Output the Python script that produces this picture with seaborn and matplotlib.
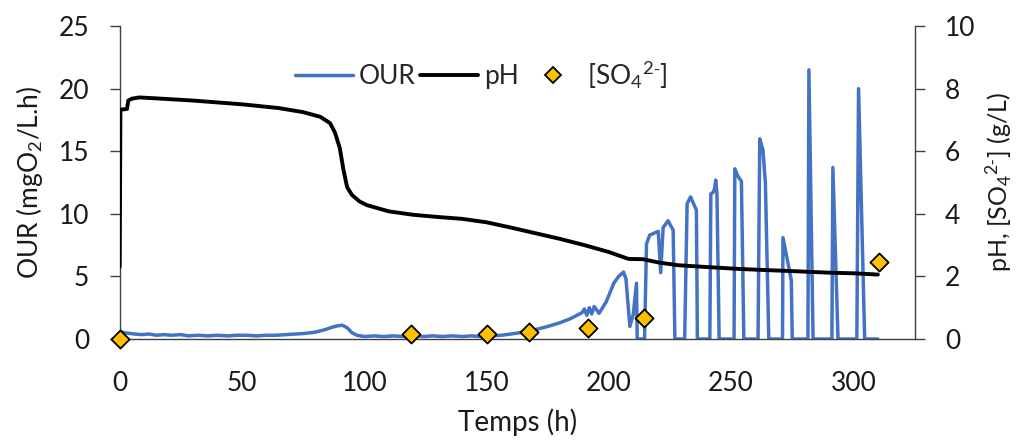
import matplotlib
matplotlib.use("Agg")
import matplotlib.pyplot as plt
import seaborn as sns
import pandas as pd
from matplotlib.lines import Line2D

# OUR (mgO2/L.h) vs time (h)
our_t = [0, 0.5, 1, 2, 4, 6, 9, 12, 15, 18, 21, 25, 28, 32, 36, 40, 44, 48, 52, 56,
         60, 64, 68, 72, 76, 80, 84, 87, 89, 91, 93, 95, 97, 100, 104, 108, 112, 116,
         120, 124, 128, 132, 136, 140, 144, 148, 152, 156, 160, 165, 170, 175, 180,
         184, 187, 189, 190, 191, 192, 193, 194, 196, 199, 202, 204, 206, 207, 208.6,
         210, 211.3, 211.6, 214.6, 215.4, 216.7, 219, 220.2, 221.2, 222.2, 224.2,
         226.3, 227, 231, 232, 233.4, 235.8, 236.2, 241.3, 241.7, 242.6, 243.2, 243.7,
         244.2, 245.1, 251.2, 251.5, 252.8, 254.2, 255.2, 261, 261.7, 263, 264, 265.4,
         271, 271.2, 274.6, 275, 281.4, 281.8, 283.5, 291.2, 291.6, 293.7, 301.4, 302.1,
         304.6, 310]
our_v = [0.1, 0.6, 0.55, 0.5, 0.45, 0.4, 0.35, 0.4, 0.3, 0.35, 0.3, 0.35, 0.25, 0.3,
         0.25, 0.3, 0.25, 0.3, 0.3, 0.25, 0.3, 0.3, 0.35, 0.4, 0.45, 0.55, 0.75, 0.95,
         1.05, 1.1, 0.9, 0.5, 0.3, 0.2, 0.25, 0.2, 0.25, 0.2, 0.25, 0.2, 0.25, 0.2,
         0.25, 0.2, 0.25, 0.2, 0.25, 0.3, 0.4, 0.55, 0.75, 1.0, 1.3, 1.6, 1.9, 2.1,
         2.4, 1.9, 2.5, 2.0, 2.6, 2.05, 3.0, 4.45, 5.0, 5.35, 4.8, 1.0, 2.0, 4.45, 0.0,
         0.0, 7.6, 8.3, 8.5, 8.6, 5.3, 8.9, 9.45, 8.7, 0.0, 0.0, 10.8, 11.35, 10.3, 0.0,
         0.0, 11.6, 11.7, 12.0, 12.7, 11.6, 0.0, 0.0, 13.6, 13.0, 12.6, 0.0, 0.0, 16.0,
         15.1, 12.5, 0.0, 0.0, 8.1, 4.7, 0.0, 0.0, 21.5, 0.0, 0.0, 13.7, 0.0, 0.0, 20.0,
         0.0, 0.0]

# pH vs time (h)
ph_t = [0, 0.3, 3, 3.5, 5, 8, 15, 30, 50, 65, 75, 82, 86, 88, 90, 91.5, 93, 95, 98,
        101, 110, 120, 130, 140, 150, 160, 170, 180, 190, 200, 208, 214, 220, 228, 240,
        253, 265, 275, 290, 300, 310]
ph_v = [2.31, 7.33, 7.35, 7.62, 7.68, 7.72, 7.69, 7.62, 7.50, 7.38, 7.25, 7.10, 6.9,
        6.6, 6.1, 5.4, 4.85, 4.6, 4.4, 4.28, 4.08, 3.97, 3.9, 3.84, 3.73, 3.56, 3.38,
        3.2, 3.0, 2.78, 2.56, 2.55, 2.45, 2.36, 2.3, 2.24, 2.2, 2.17, 2.12, 2.1, 2.06]

# sulfate (g/L)
so4_t = [0, 119, 150, 167.5, 191.5, 214.5, 310.4]
so4_v = [0.0, 0.15, 0.15, 0.22, 0.36, 0.66, 2.45]

sns.set_style("white")
plt.rcParams["font.family"] = ["Lato", "DejaVu Sans"]
plt.rcParams["mathtext.default"] = "regular"

blue = "#4472C4"
gold = "#FFC000"
axcol = "#404040"
txt = "#1a1a1a"

fig, ax = plt.subplots(figsize=(10.23, 4.42), dpi=100)
fig.subplots_adjust(left=0.117, right=0.894, top=0.941, bottom=0.233)
ax2 = ax.twinx()

our = pd.DataFrame({"t": our_t, "v": our_v})
ph = pd.DataFrame({"t": ph_t, "v": ph_v})
so4 = pd.DataFrame({"t": so4_t, "v": so4_v})

sns.lineplot(data=our, x="t", y="v", ax=ax, color=blue, lw=2.5,
             sort=False, estimator=None)
sns.lineplot(data=ph, x="t", y="v", ax=ax2, color="black", lw=2.8,
             sort=False, estimator=None)
sns.scatterplot(data=so4, x="t", y="v", ax=ax2, marker="D", s=85, color=gold,
                edgecolor="black", linewidth=1.3, zorder=5, clip_on=False)

ax.set_xlim(0, 325)
ax.set_ylim(0, 25)
ax2.set_ylim(0, 10)
ax.set_xticks([0, 50, 100, 150, 200, 250, 300])
ax.set_yticks([0, 5, 10, 15, 20, 25])
ax2.set_yticks([0, 2, 4, 6, 8, 10])

ax.set_xlabel("Temps (h)", fontsize=20, color=txt, labelpad=9)
ax.set_ylabel("OUR (mgO$_2$/L.h)", fontsize=19, color=txt, labelpad=10)
ax2.set_ylabel("pH, [SO$_4$$^{2\u2011}$] (g/L)", fontsize=18, color=txt, labelpad=6)
ax2.set_xlabel("")

for a in (ax, ax2):
    a.spines["top"].set_visible(False)
    for s in ("left", "right", "bottom"):
        a.spines[s].set_color(axcol)
        a.spines[s].set_linewidth(1.0)
    a.tick_params(axis="both", direction="out", length=7, width=1.0,
                  colors=axcol, labelcolor=txt, labelsize=19, pad=15)
ax.tick_params(axis="x", pad=16)
ax2.spines["left"].set_visible(False)
ax2.spines["bottom"].set_visible(False)
ax.spines["right"].set_visible(False)

handles = [
    Line2D([], [], color=blue, lw=2.5),
    Line2D([], [], color="black", lw=2.8),
    Line2D([], [], marker="D", ls="none", markersize=8, markerfacecolor=gold,
           markeredgecolor="black", markeredgewidth=1.3),
]
ax2.legend(handles, ["OUR", "pH", "[SO$_4$$^{2\u2011}$]"], loc="center",
           bbox_to_anchor=(0.455, 0.845), ncol=3, frameon=False, fontsize=19,
           handlelength=2.2, handletextpad=0.2, columnspacing=0.2)

fig.savefig("out.png", dpi=100)
